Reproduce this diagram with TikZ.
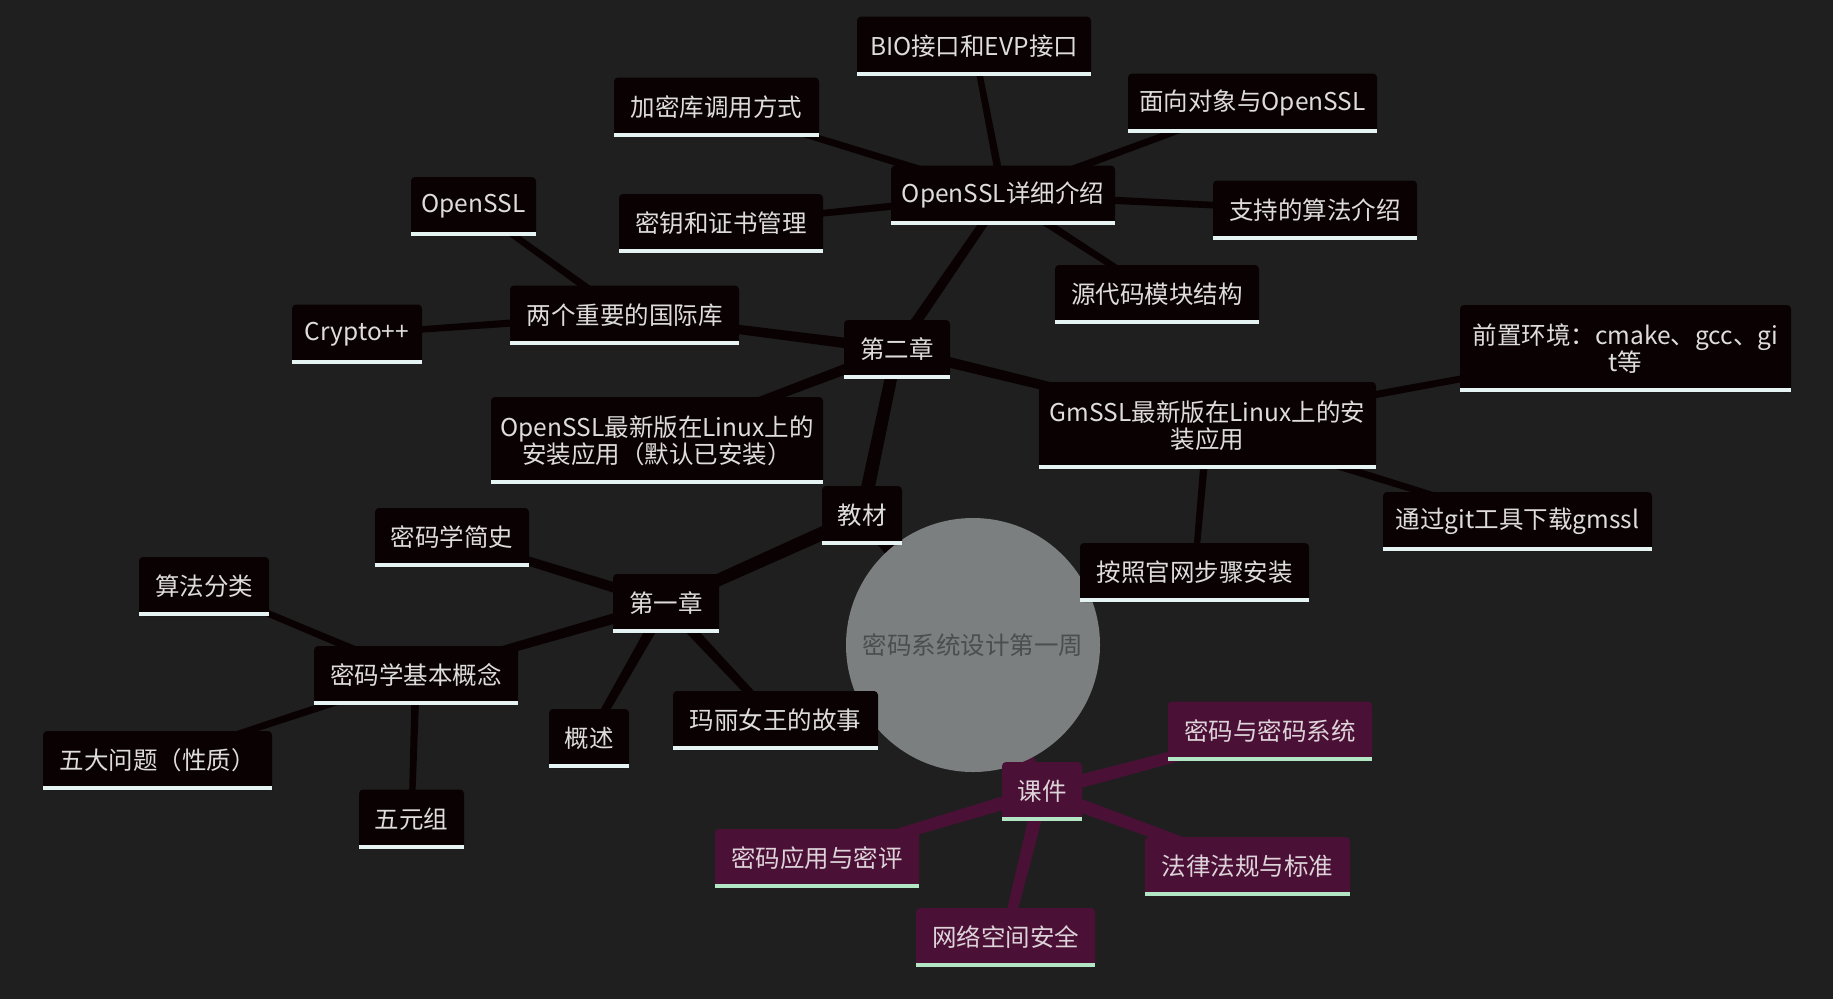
\documentclass[tikz,border=0pt]{standalone}
\usepackage{fontspec}
\setmainfont{Noto Sans CJK SC}
\usetikzlibrary{calc,backgrounds}
\definecolor{bgc}{HTML}{1F1F1F}
\definecolor{boxc}{HTML}{0A0202}
\definecolor{purc}{HTML}{4B1035}
\definecolor{txtc}{HTML}{DEDCDC}
\definecolor{ptxtc}{HTML}{DDD3D9}
\definecolor{ulc}{HTML}{E6F3F3}
\definecolor{pulc}{HTML}{B3E6C4}
\definecolor{rootc}{HTML}{7B7F7F}
\definecolor{roottxt}{HTML}{4A4E4E}
\newcommand\mmfs{\fontsize{24.5}{27}\selectfont}
\newcommand\tline[5]{%
  \fill[#5] ($(#1.center)!#3!90:(#2.center)$) -- ($(#2.center)!#4!-90:(#1.center)$)
    -- ($(#2.center)!#4!90:(#1.center)$) -- ($(#1.center)!#3!-90:(#2.center)$) -- cycle;}
\tikzset{
  bx/.style={fill=boxc, text=txtc, rounded corners=4pt, minimum height=59pt,
    inner sep=0pt, font=\mmfs, align=center},
  pbx/.style={bx, fill=purc, text=ptxtc},
}
\begin{document}
\begin{tikzpicture}[x=1pt,y=-1pt]
\useasboundingbox (0,0) rectangle (1833,999);
% root
\node[circle, fill=rootc, minimum size=254pt, inner sep=0pt, text=roottxt, font=\mmfs] (root) at (973,645) {密码系统设计第一周};
% chapter 2 branch
\node[bx, minimum width=234pt] (bio) at (974,46) {BIO接口和EVP接口};
\node[bx, minimum width=205pt] (jmk) at (716.5,107) {加密库调用方式};
\node[bx, minimum width=249pt] (mxdx) at (1252.5,103) {面向对象与OpenSSL};
\node[bx, minimum width=224pt] (ossldet) at (1003,195) {OpenSSL详细介绍};
\node[bx, minimum width=204pt] (myzs) at (721,223.5) {密钥和证书管理};
\node[bx, minimum width=204pt] (zcsf) at (1315,210) {支持的算法介绍};
\node[bx, minimum width=125pt] (ossl) at (473.5,206.5) {OpenSSL};
\node[bx, minimum width=204pt] (ydm) at (1157,294.5) {源代码模块结构};
\node[bx, minimum width=229pt] (lgk) at (624.5,315) {两个重要的国际库};
\node[bx, minimum width=130pt] (cpp) at (357,334) {Crypto++};
\node[bx, minimum width=106pt] (ch2) at (897,349.5) {第二章};
\node[bx, minimum width=331pt, minimum height=87pt] (qzhj) at (1625.5,348.5) {前置环境：cmake、gcc、gi\\t等};
\node[bx, minimum width=337pt, minimum height=87pt] (gmssl) at (1207.5,425.5) {GmSSL最新版在Linux上的安\\装应用};
\node[bx, minimum width=332pt, minimum height=87pt] (osslnew) at (657,440.5) {OpenSSL最新版在Linux上的\\安装应用（默认已安装）};
\node[bx, minimum width=269pt] (git) at (1517.5,521.5) {通过git工具下载gmssl};
\node[bx, minimum width=80pt] (jc) at (862,515.5) {教材};
\node[bx, minimum width=229pt] (azgw) at (1194.5,572.5) {按照官网步骤安装};
% chapter 1 branch
\node[bx, minimum width=154pt] (mmxjs) at (452,537.5) {密码学简史};
\node[bx, minimum width=130pt] (sffl) at (204,586.5) {算法分类};
\node[bx, minimum width=106pt] (ch1) at (666,603.5) {第一章};
\node[bx, minimum width=204pt] (jbgn) at (416,675.5) {密码学基本概念};
\node[bx, minimum width=80pt] (gs) at (589,738.5) {概述};
\node[bx, minimum width=205pt] (mlnw) at (775.5,720.5) {玛丽女王的故事};
\node[bx, minimum width=229pt] (wdwt) at (157.5,760.5) {五大问题（性质）};
\node[bx, minimum width=105pt] (wyz) at (411.5,819) {五元组};
% courseware branch
\node[pbx, minimum width=204pt] (mmxt) at (1270,731) {密码与密码系统};
\node[pbx, minimum width=80pt] (kj) at (1042,791.5) {课件};
\node[pbx, minimum width=204pt] (mmyy) at (817,858.5) {密码应用与密评};
\node[pbx, minimum width=205pt] (flfg) at (1247.5,866.5) {法律法规与标准};
\node[pbx, minimum width=179pt] (wlkj) at (1005.5,937.5) {网络空间安全};
% underlines
\foreach \n in {bio,jmk,mxdx,ossldet,myzs,zcsf,ossl,ydm,lgk,cpp,ch2,qzhj,gmssl,osslnew,git,jc,azgw,mmxjs,sffl,ch1,jbgn,gs,mlnw,wdwt,wyz}
  \fill[ulc] (\n.south west) rectangle ([yshift=4pt]\n.south east);
\foreach \n in {mmxt,kj,mmyy,flfg,wlkj}
  \fill[pulc] (\n.south west) rectangle ([yshift=4pt]\n.south east);
% connectors
\begin{pgfonlayer}{background}
\fill[bgc] (0,0) rectangle (1833,999);
\tline{root}{jc}{8pt}{7pt}{boxc}
\tline{root}{kj}{8pt}{7pt}{purc}
\tline{jc}{ch2}{7pt}{6pt}{boxc}
\tline{jc}{ch1}{7pt}{6pt}{boxc}
\foreach \c in {mmxt,flfg,wlkj,mmyy}
  {\tline{kj}{\c}{7pt}{5pt}{purc}}
\foreach \c in {lgk,ossldet,osslnew,gmssl}
  {\tline{ch2}{\c}{5.5pt}{4pt}{boxc}}
\foreach \c in {mmxjs,jbgn,gs,mlnw}
  {\tline{ch1}{\c}{5.5pt}{4pt}{boxc}}
\foreach \c in {ossl,cpp}
  {\tline{lgk}{\c}{4pt}{3pt}{boxc}}
\foreach \c in {bio,jmk,mxdx,myzs,zcsf,ydm}
  {\tline{ossldet}{\c}{4pt}{3pt}{boxc}}
\foreach \c in {qzhj,git,azgw}
  {\tline{gmssl}{\c}{4pt}{3pt}{boxc}}
\foreach \c in {sffl,wdwt,wyz}
  {\tline{jbgn}{\c}{4pt}{3pt}{boxc}}
\end{pgfonlayer}
\end{tikzpicture}
\end{document}
